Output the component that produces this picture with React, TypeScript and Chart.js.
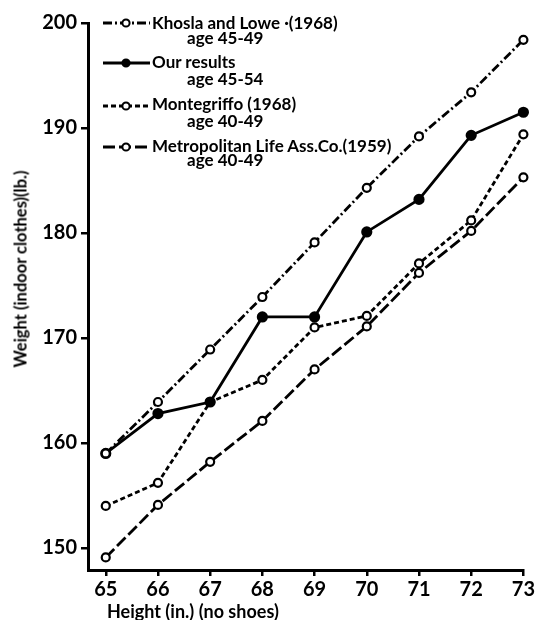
import React, { useEffect, useRef } from "react";
import { Chart, registerables } from "chart.js";

Chart.register(...registerables);

// ---------- data ----------
const heights = [65, 66, 67, 68, 69, 70, 71, 72, 73];
const khoslaLowe = [159, 163.9, 168.9, 173.9, 179.1, 184.3, 189.2, 193.4, 198.4];
const ourResults = [159, 162.8, 163.9, 172.0, 172.0, 180.1, 183.2, 189.3, 191.5];
const montegriffo = [154.0, 156.2, 163.9, 166.0, 171.0, 172.1, 177.1, 181.2, 189.4];
const metropolitan = [149.1, 154.1, 158.2, 162.1, 167.0, 171.1, 176.2, 180.2, 185.3];

const xTicks = [65, 66, 67, 68, 69, 70, 71, 72, 73];
const yTicks = [150, 160, 170, 180, 190, 200];

const xTitle = "Height (in.) (no shoes)";
const yTitle = "Weight (indoor clothes)(lb.)";

const legendItems = [
  { name: "Khosla and Lowe \u00b7(1968)", age: "age 45-49", dash: "9 3 2 3", filled: false },
  { name: "Our results", age: "age 45-54", dash: "", filled: true },
  { name: "Montegriffo (1968)", age: "age 40-49", dash: "5 3", filled: false },
  { name: "Metropolitan Life Ass.Co.(1959)", age: "age 40-49", dash: "12 4", filled: false },
];

const FONT = "Lato, 'DejaVu Sans', sans-serif";

function toPoints(values: number[]) {
  return heights.map((h, i) => ({ x: h, y: values[i] }));
}

export default function App() {
  const ref = useRef<HTMLCanvasElement | null>(null);

  useEffect(() => {
    if (!ref.current) return;
    const common = {
      borderColor: "#000",
      borderWidth: 2.8,
      pointBorderColor: "#000",
      pointBorderWidth: 2.2,
      pointRadius: 4,
      tension: 0,
      fill: false,
    };
    const chart = new Chart(ref.current, {
      type: "line",
      data: {
        datasets: [
          { label: legendItems[0].name, data: toPoints(khoslaLowe), borderDash: [9, 3, 2, 3], pointBackgroundColor: "#fff", ...common },
          { label: legendItems[1].name, data: toPoints(ourResults), pointBackgroundColor: "#000", ...common, pointRadius: 4.5 },
          { label: legendItems[2].name, data: toPoints(montegriffo), borderDash: [5, 3], pointBackgroundColor: "#fff", ...common },
          { label: legendItems[3].name, data: toPoints(metropolitan), borderDash: [12, 4], pointBackgroundColor: "#fff", ...common },
        ],
      },
      options: {
        responsive: false,
        animation: false,
        clip: false as any,
        layout: { padding: { left: 0, right: 11, top: 23, bottom: 0 } },
        plugins: { legend: { display: false }, tooltip: { enabled: false } },
        scales: {
          x: {
            type: "linear",
            min: 64.66,
            max: 73,
            afterBuildTicks: (s: any) => {
              s.ticks = xTicks.map((v) => ({ value: v }));
            },
            afterFit: (s: any) => {
              s.height = 50;
            },
            grid: { drawOnChartArea: false, drawTicks: true, tickLength: 6, lineWidth: 2.5, color: "#000" },
            border: { display: true, color: "#000", width: 3 },
            ticks: {
              color: "#000",
              font: { family: FONT, size: 20, weight: "bold" },
              padding: 2,
              maxRotation: 0,
              autoSkip: false,
            },
          },
          y: {
            type: "linear",
            min: 147.9,
            max: 200,
            afterBuildTicks: (s: any) => {
              s.ticks = yTicks.map((v) => ({ value: v }));
            },
            afterFit: (s: any) => {
              s.width = 88;
            },
            grid: { drawOnChartArea: false, drawTicks: true, tickLength: 7, lineWidth: 2.5, color: "#000" },
            border: { display: true, color: "#000", width: 3 },
            ticks: {
              color: "#000",
              font: { family: FONT, size: 20, weight: "bold" },
              padding: 4,
              autoSkip: false,
            },
          },
        },
      },
    } as any);
    return () => chart.destroy();
  }, []);

  const textStyle: React.CSSProperties = {
    position: "absolute",
    fontFamily: FONT,
    fontWeight: 700,
    fontSize: 17,
    lineHeight: "17px",
    color: "#000",
    whiteSpace: "nowrap",
  };

  const rowCenters = [23, 63, 106, 147];
  const nameTops = [14, 53, 95, 137];
  const ageTops = [29, 70, 112, 151];

  return (
    <div style={{ position: "absolute", left: 0, top: 0, width: 537, height: 620, background: "#fff" }}>
      <canvas ref={ref} width={537} height={620} style={{ width: 537, height: 620, display: "block" }} />
      {legendItems.map((it, i) => (
        <React.Fragment key={i}>
          <svg
            width={50}
            height={12}
            style={{ position: "absolute", left: 102, top: rowCenters[i] - 6 }}
          >
            <line x1={1} y1={6} x2={48} y2={6} stroke="#000" strokeWidth={2.8} strokeDasharray={it.dash || undefined} />
            <circle cx={24} cy={6} r={3.6} fill={it.filled ? "#000" : "#fff"} stroke="#000" strokeWidth={2} />
          </svg>
          <div style={{ ...textStyle, left: 152, top: nameTops[i] }}>{it.name}</div>
          <div style={{ ...textStyle, left: 187, top: ageTops[i] }}>{it.age}</div>
        </React.Fragment>
      ))}
      <div style={{ ...textStyle, left: 107, top: 602, fontSize: 18, lineHeight: "18px" }}>{xTitle}</div>
      <div
        style={{
          ...textStyle,
          fontSize: 16.5,
          left: 21,
          top: 269,
          transform: "translate(-50%, -50%) rotate(-90deg)",
        }}
      >
        {yTitle}
      </div>
    </div>
  );
}
